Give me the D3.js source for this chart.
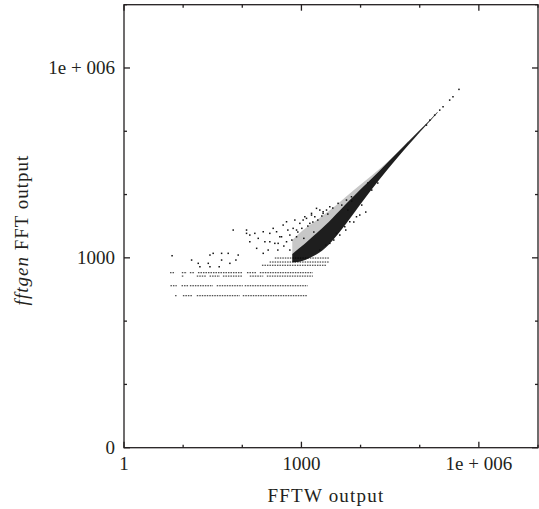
<!DOCTYPE html>
<html>
<head>
<meta charset="utf-8">
<script src="https://cdn.jsdelivr.net/npm/d3@7"></script>
<style>
body { margin: 0; background: #fff; }
svg text { font-family: "Liberation Serif", "Times New Roman", serif; fill: #231f20; }
</style>
</head>
<body>
<div id="chart"></div>
<script>
// scattered outliers
const fftwOut = [6.5, 13.9, 18, 28.4, 32.2, 26.6, 44.7, 57.8, 44.7, 61.7, 40.7, 19.2, 28.4, 70.2, 78, 85.3,
    118, 134, 163, 241, 292, 380, 491, 560, 175, 226, 274, 355, 461, 724, 827, 1069, 1387, 1683, 2327, 2656,
    560, 940, 1219, 1481, 1799, 2327, 118, 226, 333, 431, 637, 292, 404, 134, 186, 827, 774, 1141, 1481,
    2045, 3017, 4169, 5776, 7018, 3017, 3917, 5408, 6573, 8530, 2045,
    589, 689, 869, 1016, 1283, 1558, 1892, 2213, 2793, 3390, 4810, 6080, 2583, 3525, 4456, 5620, 7680,
    9690, 12240, 10470, 15460, 19530, 13240, 7100, 504, 399, 637, 1098, 1620,
    130000, 148000, 179000, 218000, 248000, 321000, 365000, 461000];
const fftgenOut = [1080, 923, 819, 1107, 1178, 819, 1178, 1178, 923, 819, 723, 723, 723, 2749, 923, 1107,
    2749, 2291, 2438, 1796, 2438, 2584, 3296, 1796, 1413, 1178, 1328, 1694, 2153, 2924, 2153, 3956, 3508, 4460, 5044, 5690,
    3718, 3508, 4207, 5044, 6053, 5349, 2438, 2584, 2924, 2153, 2291, 1796, 1694, 1796, 2032, 2749, 3956, 4460, 4745,
    5690, 6418, 7260, 8186, 9230, 1694, 2438, 3099, 3718, 4460, 1328,
    2749, 1910, 2558, 2924, 3180, 3680, 3956, 4580, 4920, 6120, 6820, 5690, 1592, 1910, 2291, 2749, 3680,
    4745, 5290, 6820, 11770, 15200, 15200, 7890, 1536, 1328, 1328, 2032, 2558,
    125000, 150000, 180000, 216000, 244000, 311000, 351000, 459000];

// quantised rows of fftgen output and the FFTW ranges they cover
const rowLevels = [582, 515, 362, 252, 764, 859, 993];
const rowRuns = [
    [[6, 7.3], [9.5, 11.6], [13, 15.8], [17.8, 102], [120, 176], [198, 1560]],
    [[9.5, 10.3], [17, 25], [28, 42], [47, 102], [134, 226], [260, 1560]],
    [[6.1, 7.8], [9.4, 12.2], [13, 32], [37, 102], [110, 1280]],
    [[7.3, 7.8], [9.9, 14.6], [17, 91], [102, 1280]],
    [[215, 2700]],
    [[290, 3000]],
    [[355, 3000]]
];

// dense band along the diagonal
const coreX = [700, 1000, 1400, 2500, 4500, 9600, 20800, 45000, 99000, 140000, 200000];
const coreLo = [850, 870, 990, 1330, 2560, 6820, 17600, 41500, 95000, 135500, 196000];
const coreHi = [1150, 1500, 2000, 3180, 5690, 11780, 23500, 48900, 103500, 142500, 203000];
const haloX = [700, 1000, 2000, 4000, 8000, 16000, 32000, 64000];
const haloLo = [850, 860, 1200, 2200, 5200, 13000, 28000, 62000];
const haloHi = [1900, 2700, 4200, 6900, 12200, 20500, 35500, 70000];

const decades = [1, 10, 100, 1000, 1e4, 1e5, 1e6, 1e7];
const xMajor = [1, 1000, 1e6];
const xLabels = ["1", "1000", "1e + 006"];
const yMajor = [1, 1000, 1e6];
const yLabels = ["0", "1000", "1e + 006"];

const W = 539, H = 509;
const mLeft = 124, mRight = 538, mTop = 4.7, mBottom = 447.7;

const svg = d3.select("#chart").append("svg")
    .attr("width", W)
    .attr("height", H);

const x = d3.scaleLog().domain([1, 1e7]).range([mLeft, mRight]);
const y = d3.scaleLog().domain([1, 1e7]).range([mBottom, mTop]);

const plot = svg.append("g");

// halo of speckled points
const halo = d3.area()
    .x((d, i) => x(haloX[i]))
    .y0((d, i) => y(haloLo[i]))
    .y1((d, i) => y(haloHi[i]))
    .curve(d3.curveBasis);
plot.append("path")
    .attr("d", halo(haloX))
    .attr("fill", "#000")
    .attr("fill-opacity", 0.22);

// quantised rows
rowLevels.forEach((lvl, r) => {
    rowRuns[r].forEach(run => {
        plot.append("line")
            .attr("x1", x(run[0]))
            .attr("x2", x(run[1]))
            .attr("y1", y(lvl))
            .attr("y2", y(lvl))
            .attr("stroke", "#222")
            .attr("stroke-width", 1)
            .attr("stroke-dasharray", "1.5 1");
    });
});

const core = d3.area()
    .x((d, i) => x(coreX[i]))
    .y0((d, i) => y(coreLo[i]))
    .y1((d, i) => y(coreHi[i]))
    .curve(d3.curveBasis);
plot.append("path")
    .attr("d", core(coreX))
    .attr("fill", "#000")
    .attr("fill-opacity", 0.85);

// outlier points
plot.selectAll("rect.pt")
    .data(fftwOut)
    .enter()
    .append("rect")
    .attr("class", "pt")
    .attr("x", d => x(d) - 0.75)
    .attr("y", (d, i) => y(fftgenOut[i]) - 0.75)
    .attr("width", 1.5)
    .attr("height", 1.5)
    .attr("fill", "#111");

// frame
svg.append("rect")
    .attr("x", mLeft)
    .attr("y", mTop)
    .attr("width", mRight - mLeft)
    .attr("height", mBottom - mTop)
    .attr("fill", "none")
    .attr("stroke", "#231f20")
    .attr("stroke-width", 1.3);

// ticks on all four sides, pointing inward
const tickLen = (d, major) => major.includes(d) ? 6 : 3;
decades.forEach(d => {
    const lx = tickLen(d, xMajor), ly = tickLen(d, yMajor);
    svg.append("line").attr("x1", x(d)).attr("x2", x(d)).attr("y1", mBottom).attr("y2", mBottom - lx)
        .attr("stroke", "#231f20").attr("stroke-width", 1.3);
    svg.append("line").attr("x1", x(d)).attr("x2", x(d)).attr("y1", mTop).attr("y2", mTop + lx)
        .attr("stroke", "#231f20").attr("stroke-width", 1.3);
    svg.append("line").attr("x1", mLeft).attr("x2", mLeft + ly).attr("y1", y(d)).attr("y2", y(d))
        .attr("stroke", "#231f20").attr("stroke-width", 1.3);
    svg.append("line").attr("x1", mRight).attr("x2", mRight - ly).attr("y1", y(d)).attr("y2", y(d))
        .attr("stroke", "#231f20").attr("stroke-width", 1.3);
});

// tick labels
svg.selectAll("text.xl")
    .data(xMajor)
    .enter().append("text")
    .attr("class", "xl")
    .attr("x", d => x(d))
    .attr("y", 469.5)
    .attr("text-anchor", "middle")
    .attr("font-size", 19)
    .text((d, i) => xLabels[i]);

svg.selectAll("text.yl")
    .data(yMajor)
    .enter().append("text")
    .attr("class", "yl")
    .attr("x", 115)
    .attr("y", d => y(d) + 6)
    .attr("text-anchor", "end")
    .attr("font-size", 19)
    .text((d, i) => yLabels[i]);

// axis titles
svg.append("text")
    .attr("x", 326)
    .attr("y", 501.5)
    .attr("text-anchor", "middle")
    .attr("font-size", 19)
    .attr("letter-spacing", 1.2)
    .text("FFTW output");

const yt = svg.append("text")
    .attr("transform", "translate(28, 230) rotate(-90)")
    .attr("text-anchor", "middle")
    .attr("font-size", 19)
    .attr("letter-spacing", 1);
yt.append("tspan").attr("font-style", "italic").text("fftgen");
yt.append("tspan").text(" FFT output");
</script>
</body>
</html>
